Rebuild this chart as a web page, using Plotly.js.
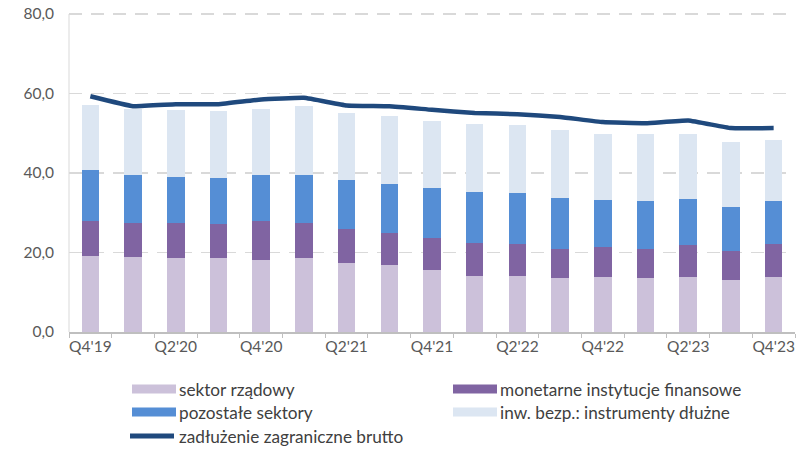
<!DOCTYPE html>
<html>
<head>
<meta charset="utf-8">
<script src="https://cdn.plot.ly/plotly-3.0.1.min.js"></script>
<style>html,body{margin:0;padding:0;background:#fff;}#chart{width:803px;height:450px;}</style>
</head>
<body>
<div id="chart"></div>
<script>
var quarters = ["Q4'19","Q1'20","Q2'20","Q3'20","Q4'20","Q1'21","Q2'21","Q3'21","Q4'21","Q1'22","Q2'22","Q3'22","Q4'22","Q1'23","Q2'23","Q3'23","Q4'23"];
var sektorRzadowy = [19.0,18.8,18.5,18.5,18.2,18.5,17.3,16.8,15.5,14.1,14.1,13.5,13.8,13.5,13.8,13.0,13.8];
var monetarneIF   = [9.0,8.6,8.9,8.7,9.6,8.9,8.7,8.1,8.2,8.3,8.0,7.5,7.7,7.5,8.1,7.4,8.3];
var pozostale     = [12.7,12.2,11.7,11.6,11.6,12.2,12.3,12.4,12.6,12.8,12.8,12.8,11.8,12.0,11.6,11.1,10.9];
var inwBezp       = [16.3,16.6,16.7,16.7,16.6,17.2,16.9,17.0,16.9,17.2,17.2,16.9,16.4,16.9,16.4,16.2,15.2];
var zadluzenie    = [59.3,56.8,57.3,57.3,58.5,58.9,57.0,56.8,55.9,55.1,54.8,54.1,52.8,52.5,53.2,51.3,51.3];
var seriesNames = ["sektor rządowy","monetarne instytucje finansowe","pozostałe sektory","inw. bezp.: instrumenty dłużne","zadłużenie zagraniczne brutto"];
var yTicks = [0,20,40,60,80];

var colors = ["#CCC1DA","#8064A2","#558ED5","#DCE6F2","#1F497D"];
var FONT = "Lato, Open Sans, sans-serif";
var FS = 15.5;
var LFS = 17.2;
var tickText = quarters.map(function(q,i){return i%2===0 ? q : "";});

var barData = [sektorRzadowy, monetarneIF, pozostale, inwBezp];
var traces = barData.map(function(vals,i){
  return {type:"bar", x:quarters, y:vals, name:seriesNames[i], marker:{color:colors[i], line:{width:0}}, hoverinfo:"y+name"};
});
traces.push({type:"scatter", mode:"lines", x:quarters, y:zadluzenie, name:seriesNames[4], line:{color:colors[4], width:4.5, shape:"spline", smoothing:0.3}});

// custom legend (swatches + labels) in pixel-derived paper coords
var L = 69, W = 726, B = 332, H = 322;
function px(x){return (x-L)/W;}
function py(y){return (B-y)/H;}
var legendPos = [[132,389],[453,389],[132,412],[453,412],[132,436]];
var shapes = [], annotations = [];
legendPos.forEach(function(p,i){
  if(i<4){
    shapes.push({type:"rect", xref:"paper", yref:"paper", x0:px(p[0]), x1:px(p[0]+44), y0:py(p[1]+4.5), y1:py(p[1]-4.5), fillcolor:colors[i], line:{width:0}});
  } else {
    shapes.push({type:"line", xref:"paper", yref:"paper", x0:px(p[0]-2), x1:px(p[0]+42), y0:py(p[1]), y1:py(p[1]), line:{color:colors[4], width:5}});
  }
  annotations.push({xref:"paper", yref:"paper", x:px(p[0]+45), y:py(p[1]), xanchor:"left", yanchor:"middle", showarrow:false, text:seriesNames[i], font:{family:FONT, size:LFS, color:"#404040"}});
});

var layout = {
  width:803, height:450,
  margin:{l:69, r:8, t:10, b:118},
  paper_bgcolor:"#fff", plot_bgcolor:"#fff",
  barmode:"stack", bargap:0.59,
  separators:", ",
  showlegend:false,
  font:{family:FONT, size:FS, color:"#595959"},
  xaxis:{type:"category", categoryarray:quarters, tickvals:quarters, ticktext:tickText, tickson:"boundaries", tickangle:0,
         ticks:"outside", ticklen:4, tickcolor:"#BFBFBF", showline:true, linecolor:"#BFBFBF", linewidth:1.5,
         showgrid:false, tickfont:{family:FONT, size:FS, color:"#595959"}, range:[-0.5,16.5], fixedrange:true},
  yaxis:{range:[0,81], tickvals:yTicks, tickformat:".1f", showgrid:true, gridcolor:"#D9D9D9", gridwidth:1.8, griddash:"13px,9px",
         zeroline:false, showline:false, ticks:"", ticklabelstandoff:14,
         tickfont:{family:FONT, size:FS, color:"#595959"}, fixedrange:true},
  shapes:shapes.concat([{type:"line", xref:"paper", yref:"y", x0:0, x1:0, y0:0, y1:80, line:{color:"#D9D9D9", width:1}}]),
  annotations:annotations
};
Plotly.newPlot("chart", traces, layout, {displayModeBar:false, staticPlot:true});
</script>
</body>
</html>
